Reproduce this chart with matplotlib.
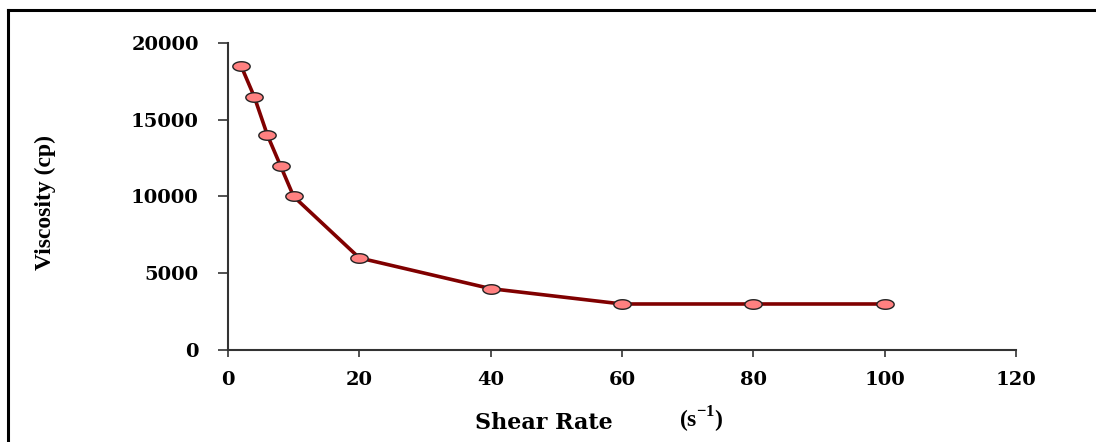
import numpy as np
import matplotlib
matplotlib.use("Agg")
import matplotlib.pyplot as plt
from matplotlib.path import Path
from matplotlib.lines import Line2D

# viscosity vs shear rate
shear_rate = [2, 4, 6, 8, 10, 20, 40, 60, 80, 100]
viscosity = [18500, 16500, 14000, 12000, 10000, 6000, 4000, 3000, 3000, 3000]
x_ticks = [0, 20, 40, 60, 80, 100, 120]
y_ticks = [0, 5000, 10000, 15000, 20000]

plt.rcParams['mathtext.fontset'] = 'custom'
plt.rcParams['mathtext.rm'] = 'Liberation Serif'

# flattened oval marker
t = np.linspace(0, 2 * np.pi, 41)
oval = Path(np.column_stack([np.cos(t), 0.55 * np.sin(t)]), closed=True)

fig = plt.figure(figsize=(10.96, 4.42), dpi=100)
ax = fig.add_axes([0.208, 0.208, 0.719, 0.695])

ax.plot(shear_rate, viscosity, color='#800000', lw=2.6, marker=oval,
        markersize=12.5, markerfacecolor='#ff8080', markeredgecolor='#222222',
        markeredgewidth=1.0, zorder=3)

ax.set_xlim(0, 120)
ax.set_ylim(0, 20000)
ax.set_xticks(x_ticks)
ax.set_yticks(y_ticks)

for side in ('top', 'right'):
    ax.spines[side].set_visible(False)
for side in ('left', 'bottom'):
    ax.spines[side].set_color('#333333')
    ax.spines[side].set_linewidth(1.5)

ax.tick_params(axis='y', direction='out', length=7, width=1.2, pad=14, color='#333333')
ax.tick_params(axis='x', direction='out', length=5, width=1.2, pad=10, color='#333333')
for lab in ax.get_xticklabels() + ax.get_yticklabels():
    lab.set_fontfamily('DejaVu Serif')
    lab.set_fontweight('bold')
    lab.set_fontsize(14)

fig.text(45 / 1096, 1 - 202 / 442, 'Viscosity (cp)', rotation=90,
         ha='center', va='center', family='Liberation Serif',
         fontweight='bold', fontsize=17)
fig.text(544 / 1096, 1 - 423 / 442, 'Shear Rate', ha='center', va='center',
         family='DejaVu Serif', fontweight='bold', fontsize=16)
fig.text(701 / 1096, 1 - 420 / 442, '(s$^{\\mathregular{-1}}$)', ha='center',
         va='center', family='Liberation Serif', fontweight='bold', fontsize=17)

# frame lines along the top and left of the figure
fig.add_artist(Line2D([8 / 1096, 1.0], [1 - 10 / 442, 1 - 10 / 442],
                      transform=fig.transFigure, color='black', lw=2.2))
fig.add_artist(Line2D([8 / 1096, 8 / 1096], [0, 1 - 10 / 442],
                      transform=fig.transFigure, color='black', lw=2.2))

fig.savefig('out.png', dpi=100)
